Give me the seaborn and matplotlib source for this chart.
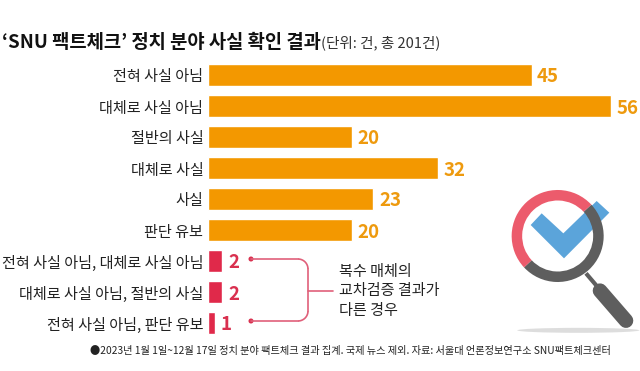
import matplotlib
matplotlib.use("Agg")
import matplotlib.pyplot as plt
import seaborn as sns
import pandas as pd
from matplotlib.patches import Wedge, Polygon, Ellipse, Circle, Arc
from matplotlib.lines import Line2D

sns.set_theme(style="white")
plt.rcParams['font.family'] = ['Noto Sans CJK KR', 'DejaVu Sans']

categories = ["전혀 사실 아님", "대체로 사실 아님", "절반의 사실", "대체로 사실", "사실", "판단 유보",
              "전혀 사실 아님, 대체로 사실 아님", "대체로 사실 아님, 절반의 사실", "전혀 사실 아님, 판단 유보"]
values = [45, 56, 20, 32, 23, 20, 2, 2, 1]
groups = ["단일"] * 6 + ["복수"] * 3
palette = {"단일": "#F39800", "복수": "#E0294A"}
text_colors = {"단일": "#EE9A0E", "복수": "#D9304F"}

df = pd.DataFrame({"category": categories, "value": values, "group": groups})

W, H = 640, 371
fig = plt.figure(figsize=(W / 100, H / 100), dpi=100, facecolor="white")

# Overlay in pixel coordinates for decorations
ov = fig.add_axes([0, 0, 1, 1])
ov.set_xlim(0, W)
ov.set_ylim(H, 0)
ov.axis("off")

# Bars
x0, top, bottom = 208, 59.5, 338.5
ax = fig.add_axes([x0 / W, 1 - bottom / H, (W - x0) / W, (bottom - top) / H])
ax.patch.set_alpha(0)
sns.barplot(data=df, y="category", x="value", hue="group", palette=palette, dodge=False,
            width=0.71, legend=False, ax=ax, saturation=1)
ax.set_xlim(0, (W - x0) / 7.19)
ax.set_ylim(8.5, -0.5)
sns.despine(ax=ax, left=True, bottom=True)
ax.set_xlabel("")
ax.set_ylabel("")
ax.set_xticks([])
ax.tick_params(axis="y", length=0, pad=3.4, labelsize=10.9, labelcolor="#222222")
for i, (v, g) in enumerate(zip(values, groups)):
    ax.annotate(str(v), (v, i), xytext=(4, 0), textcoords="offset points", va="center_baseline", ha="left",
                fontsize=13.5, fontweight="bold", color=text_colors[g], clip_on=False)

# Title
ov.text(2, 43, "‘SNU 팩트체크’ 정치 분야 사실 확인 결과", fontsize=13.5, fontweight="bold",
        color="#111111", va="center", ha="left")
ov.text(321, 43, "(단위: 건, 총 201건)", fontsize=10.5, color="#333333", va="center", ha="left")

# Bracket
pink = "#E0607A"
bx, r = 308, 10
lw = 1.2
ov.plot([251, bx - r], [259, 259], color=pink, lw=lw)
ov.plot([251, bx - r], [321, 321], color=pink, lw=lw)
ov.plot([bx, bx], [259 + r, 321 - r], color=pink, lw=lw)
ov.add_patch(Arc((bx - r, 259 + r), 2 * r, 2 * r, theta1=270, theta2=360, color=pink, lw=lw))
ov.add_patch(Arc((bx - r, 321 - r), 2 * r, 2 * r, theta1=0, theta2=90, color=pink, lw=lw))
ov.plot([bx, 333], [290.5, 290.5], color=pink, lw=lw)
ov.add_patch(Circle((251, 259), 1.8, color="#D9304F"))
ov.add_patch(Circle((251, 321), 1.8, color="#D9304F"))
ov.text(339, 271.5, "복수 매체의", fontsize=10.9, color="#222222", va="center")
ov.text(339, 291, "교차검증 결과가", fontsize=10.9, color="#222222", va="center")
ov.text(339, 310, "다른 경우", fontsize=10.9, color="#222222", va="center")

# Footnote
ov.text(90, 351, "●2023년 1월 1일~12월 17일 정치 분야 팩트체크 결과 집계. 국제 뉴스 제외. 자료: 서울대 언론정보연구소 SNU팩트체크센터",
        fontsize=7.35, color="#222222", va="center", ha="left")

# Magnifier icon
def p(x, y):
    return (480 + x / 3, 170 + y / 3)

cx, cy = p(233, 198)
ov.add_patch(Ellipse(p(295, 481), 122, 5, color="#DADADA", lw=0, alpha=0.9))
ov.add_patch(Polygon([p(185, 130), p(250, 190), p(350, 93), p(388, 128), p(252, 265), p(152, 165)],
                     closed=True, color="#5BA4DA", lw=0, zorder=3))
# y axis is inverted, so wedge angles run clockwise on screen
ov.add_patch(Wedge((cx, cy), 46, -43, 137, width=10.5, color="#5E5E5E", lw=0, zorder=4))
ov.add_patch(Wedge((cx, cy), 46, 137, 317, width=10.5, color="#EC5B6C", lw=0, zorder=4))
ov.add_line(Line2D(*zip(p(318, 310), p(352, 350)), color="#5E5E5E", lw=3, zorder=4, solid_capstyle="butt"))
ov.add_line(Line2D(*zip(p(360, 362), p(438, 452)), color="#5E5E5E", lw=10.5, zorder=4, solid_capstyle="round"))

fig.savefig("out.png", dpi=100, facecolor="white")
